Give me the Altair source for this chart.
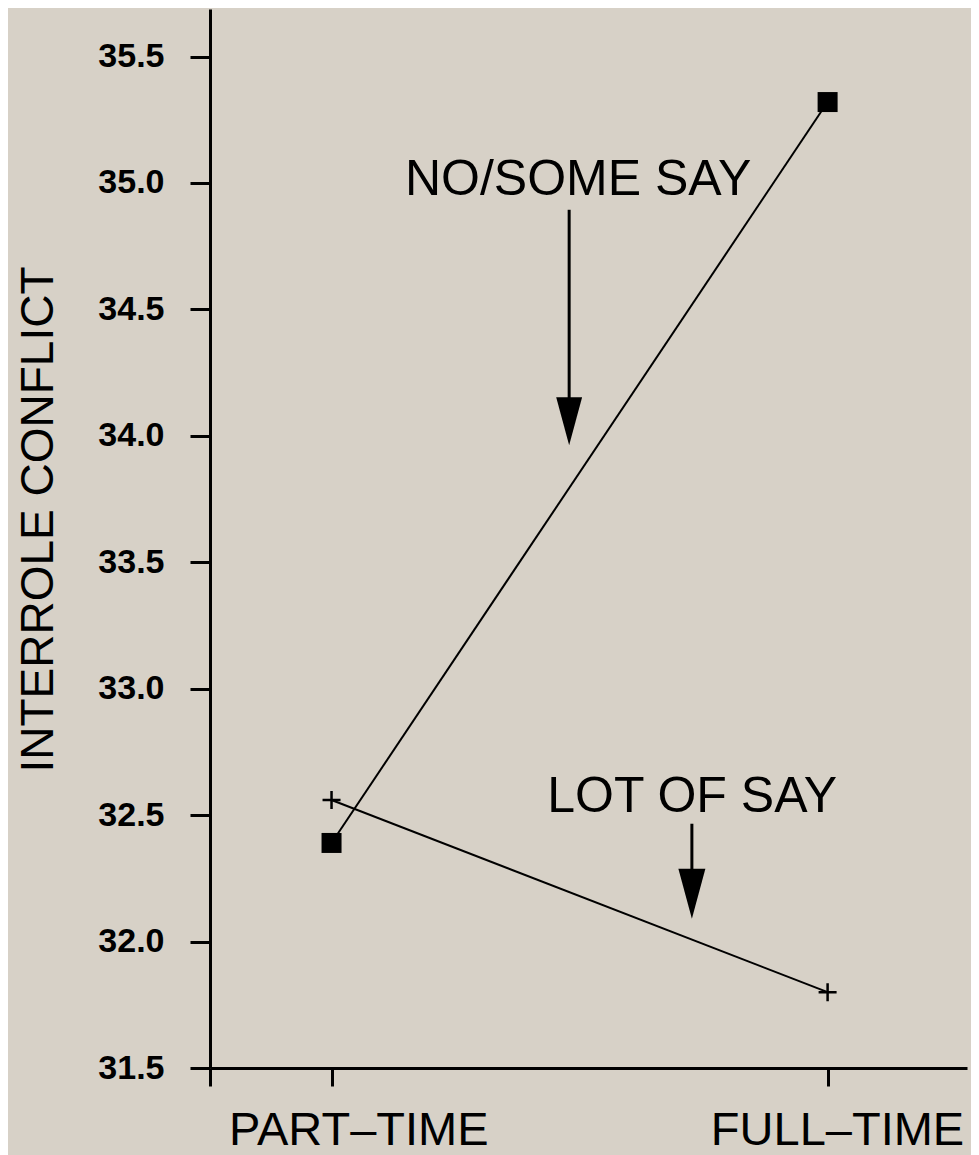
import altair as alt
import pandas as pd

# ---- data ----
categories = ["PART–TIME", "FULL–TIME"]
cat_pos = [0, 1]
cat_label_x = [0.055, 1.02]
no_some_say = [32.39, 35.32]
lot_of_say = [32.56, 31.80]
y_ticks = [31.5, 32.0, 32.5, 33.0, 33.5, 34.0, 34.5, 35.0, 35.5]

ann_labels = ["NO/SOME SAY", "LOT OF SAY"]
ann_text_x = [0.497, 0.727]
ann_text_y = [34.953, 32.514]
arrow_x = [0.479, 0.7264]
arrow_top = [34.894, 32.466]
arrow_head_mid = [34.058, 32.189]
arrow_head_size = [2304, 2500]

X_DOMAIN = [-0.245, 1.281]
Y_DOMAIN = [31.5, 35.688]
X_TICKS = [X_DOMAIN[0]] + cat_pos

FONT = "Liberation Sans"
BG = "#d7d1c7"
W, H = 757, 1059

# ---- tables ----
series = pd.DataFrame(
    {"x": cat_pos * 2,
     "y": no_some_say + lot_of_say,
     "series": ["NO/SOME SAY"] * 2 + ["LOT OF SAY"] * 2}
)
sq = series[series.series == "NO/SOME SAY"]
pl = series[series.series == "LOT OF SAY"]

ann = pd.DataFrame({"x": ann_text_x, "y": ann_text_y, "label": ann_labels})
arrows = pd.DataFrame({"x": arrow_x, "y": arrow_top, "y2": arrow_head_mid,
                       "size": arrow_head_size})
cats = pd.DataFrame({"x": cat_label_x, "label": categories})

x_axis = alt.Axis(
    values=X_TICKS, labels=False, title=None, grid=False,
    tickSize=18, tickWidth=3, tickColor="black",
    domainColor="black", domainWidth=3,
)
y_axis = alt.Axis(
    values=y_ticks, format=".1f", grid=False,
    labelFont=FONT, labelFontSize=34, labelFontWeight="bold", labelColor="black",
    labelPadding=26, labelOverlap=False, labelFlush=False,
    tickSize=20, tickWidth=3, tickColor="black",
    domainColor="black", domainWidth=3,
    title="INTERROLE CONFLICT", titleFont=FONT, titleFontSize=46,
    titleFontWeight="normal", titleColor="black", titleAngle=270,
    titleX=-158, titleY=510, titleAlign="center", titleBaseline="alphabetic",
)

X = alt.X("x:Q", scale=alt.Scale(domain=X_DOMAIN, nice=False, zero=False), axis=x_axis)
Y = alt.Y("y:Q", scale=alt.Scale(domain=Y_DOMAIN, nice=False, zero=False), axis=y_axis)

lines = alt.Chart(series).mark_line(color="black", strokeWidth=2).encode(
    x=X, y=Y, detail="series:N"
)
squares = alt.Chart(sq).mark_point(
    shape="square", filled=True, color="black", size=400, opacity=1
).encode(x=X, y=Y)
pluses = alt.Chart(pl).mark_point(
    shape="M-1,0L1,0M0,-1L0,1", filled=False, color="black", size=324,
    strokeWidth=2.5, opacity=1
).encode(x=X, y=Y)
texts = alt.Chart(ann).mark_text(
    font=FONT, fontSize=50, align="center", baseline="alphabetic", color="black"
).encode(x=X, y=Y, text="label:N")
shafts = alt.Chart(arrows).mark_rule(color="black", strokeWidth=3).encode(
    x=X, y=Y, y2="y2:Q"
)
heads = alt.Chart(arrows).mark_point(
    shape="M-0.54,-1L0.54,-1L0,1Z", filled=True, color="black", opacity=1
).encode(x=X, y=alt.Y("y2:Q"), size=alt.Size("size:Q", scale=None))
cat_labels = alt.Chart(cats).mark_text(
    font=FONT, fontSize=47, align="center", baseline="alphabetic", color="black"
).encode(x=X, y=alt.value(H + 77), text="label:N")

chart = alt.layer(lines, squares, pluses, shafts, heads, texts, cat_labels).properties(
    width=W, height=H,
    autosize=alt.AutoSizeParams(type="none"),
    padding={"left": 202, "top": 1, "right": 4, "bottom": 87},
    background=BG,
).configure_view(stroke=None)

chart.save("out.html", embed_options={"renderer": "svg", "actions": False})
